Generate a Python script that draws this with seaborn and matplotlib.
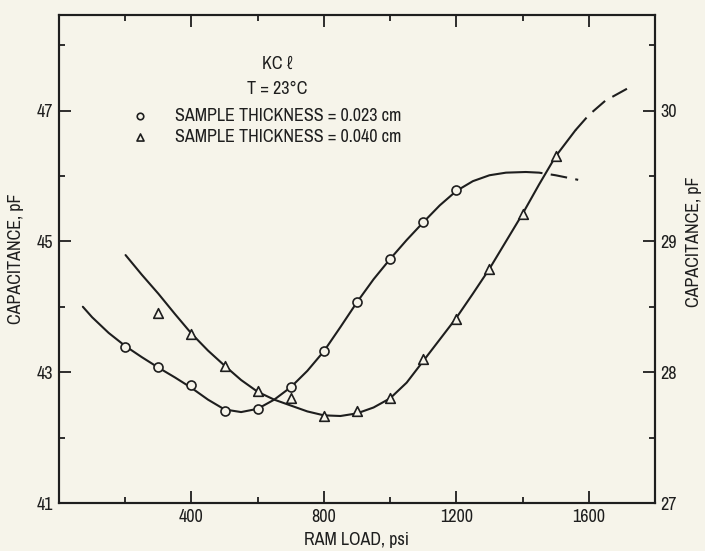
import pandas as pd
import matplotlib
matplotlib.use("Agg")
import matplotlib.pyplot as plt
import seaborn as sns
from matplotlib import font_manager

# open circles, sample thickness 0.023 cm
circ_x = [200, 300, 400, 500, 600, 700, 800, 900, 1000, 1100, 1200]
circ_y = [43.38, 43.08, 42.80, 42.41, 42.43, 42.77, 43.32, 44.08, 44.73, 45.29, 45.79]

# open triangles, sample thickness 0.040 cm
tri_x = [300, 400, 500, 600, 700, 800, 900, 1000, 1100, 1200, 1300, 1400, 1500]
tri_y = [43.91, 43.58, 43.10, 42.71, 42.60, 42.33, 42.40, 42.60, 43.20, 43.82, 44.58, 45.42, 46.31]

# hand drawn curves
curve_a_x = [72, 100, 150, 200, 250, 300, 350, 400, 450, 500, 550, 600, 650, 700, 750, 800,
             850, 900, 950, 1000, 1050, 1100, 1150, 1200, 1250, 1300, 1350, 1410]
curve_a_y = [44.00, 43.84, 43.60, 43.40, 43.23, 43.07, 42.92, 42.76, 42.58, 42.43, 42.39, 42.44,
             42.58, 42.77, 43.02, 43.32, 43.69, 44.07, 44.42, 44.73, 45.02, 45.29, 45.55, 45.77,
             45.92, 46.01, 46.05, 46.06]
curve_a_dash_x = [1410, 1450, 1500, 1568]
curve_a_dash_y = [46.06, 46.05, 46.01, 45.94]

curve_b_x = [201, 250, 300, 350, 400, 450, 500, 550, 600, 650, 700, 750, 800, 850, 900, 950,
             1000, 1050, 1100, 1150, 1200, 1250, 1300, 1350, 1400, 1450, 1500, 1560]
curve_b_y = [44.79, 44.49, 44.20, 43.89, 43.59, 43.33, 43.10, 42.88, 42.70, 42.58, 42.49, 42.40,
             42.34, 42.33, 42.37, 42.46, 42.60, 42.84, 43.17, 43.50, 43.83, 44.20, 44.58, 45.00,
             45.42, 45.87, 46.30, 46.70]
curve_b_dash_x = [1560, 1600, 1650, 1718]
curve_b_dash_y = [46.70, 46.93, 47.15, 47.34]

x_major = [400, 800, 1200, 1600]
x_minor = [200, 600, 1000, 1400]
left_major = [41, 43, 45, 47]
left_minor = [42, 44, 46, 48]
right_major = [27, 28, 29, 30]
right_minor = [27.5, 28.5, 29.5, 30.5]

BG = "#f6f4ea"
INK = "#1e1e1e"


def pick_narrow_font():
    """Return (family, stretch, size) of a condensed face if one is installed."""
    for f in font_manager.fontManager.ttflist:
        if "Narrow" in f.name or "Condensed" in f.name:
            return f.name, "normal", 13
    for f in font_manager.fontManager.ttflist:
        if f.name == "DejaVu Sans" and str(f.stretch) in ("condensed", "semi-condensed", "600"):
            return "DejaVu Sans", "condensed", 13
    return "DejaVu Sans", "normal", 10


FAMILY, STRETCH, FS = pick_narrow_font()
FONT = [FAMILY, "DejaVu Sans"]

sns.set_theme(style="ticks")
plt.rcParams["font.family"] = FONT
plt.rcParams["font.stretch"] = STRETCH
plt.rcParams["font.size"] = FS

fig = plt.figure(figsize=(7.05, 5.51), dpi=100, facecolor=BG)
ax = fig.add_axes([59 / 705, 1 - 503 / 551, 596 / 705, 488 / 551], facecolor=BG)

line_kw = dict(color=INK, linewidth=1.5, estimator=None, sort=False, legend=False, ax=ax)
sns.lineplot(data=pd.DataFrame({"x": curve_a_x, "y": curve_a_y}), x="x", y="y", **line_kw)
sns.lineplot(data=pd.DataFrame({"x": curve_b_x, "y": curve_b_y}), x="x", y="y", **line_kw)
sns.lineplot(data=pd.DataFrame({"x": curve_a_dash_x, "y": curve_a_dash_y}), x="x", y="y",
             linestyle=(0, (8, 4)), **line_kw)
sns.lineplot(data=pd.DataFrame({"x": curve_b_dash_x, "y": curve_b_dash_y}), x="x", y="y",
             linestyle=(0, (8, 4)), **line_kw)

mark_kw = dict(facecolor=BG, edgecolor=INK, linewidth=1.2, legend=False, ax=ax, zorder=5)
sns.scatterplot(x=circ_x, y=circ_y, marker="o", s=42, **mark_kw)
sns.scatterplot(x=tri_x, y=tri_y, marker="^", s=48, **mark_kw)

# legend block drawn as text
txt_kw = dict(fontsize=FS, family=FONT, fontstretch=STRETCH, color=INK, va="center")
ax.text(659, 47.71, "KC \u2113", ha="center", **txt_kw)
ax.text(659, 47.33, "T = 23\u00b0C", ha="center", **txt_kw)
sns.scatterplot(x=[245], y=[46.91], marker="o", s=22, **mark_kw)
sns.scatterplot(x=[245], y=[46.60], marker="^", s=26, **mark_kw)
ax.text(350, 46.91, "SAMPLE THICKNESS = 0.023 cm", ha="left", **txt_kw)
ax.text(350, 46.60, "SAMPLE THICKNESS = 0.040 cm", ha="left", **txt_kw)

ax.set_xlim(0, 1800)
ax.set_ylim(41, 48.46)
ax.set_xticks(x_major)
ax.set_xticks(x_minor, minor=True)
ax.set_yticks(left_major)
ax.set_yticks(left_minor, minor=True)
ax.set_xlabel("RAM LOAD, psi", fontsize=FS, color=INK, va="center")
ax.set_ylabel("CAPACITANCE, pF", fontsize=FS, color=INK, va="center")
ax.xaxis.set_label_coords(0.5, -0.076)
ax.yaxis.set_label_coords(-0.072, 0.5)
ax.tick_params(which="both", direction="in", top=True, labeltop=False, colors=INK,
               labelsize=FS, width=1.3, pad=4)
ax.tick_params(which="major", length=8.5)
ax.tick_params(which="minor", length=4.5)

ax2 = ax.twinx()
ax2.set_ylim(27, 27 + (48.46 - 41) / 2)
ax2.set_yticks(right_major)
ax2.set_yticks(right_minor, minor=True)
ax2.set_ylabel("CAPACITANCE, pF", fontsize=FS, color=INK, va="center", rotation=90)
ax2.yaxis.set_label_coords(1.066, 0.535)
ax2.tick_params(which="both", direction="in", colors=INK, labelsize=FS, width=1.3, pad=4)
ax2.tick_params(which="major", length=8.5)
ax2.tick_params(which="minor", length=4.5)

for a in (ax, ax2):
    for sp in a.spines.values():
        sp.set_linewidth(1.5)
        sp.set_color(INK)
        sp.set_visible(True)

fig.savefig("out.png", dpi=100, facecolor=BG)
